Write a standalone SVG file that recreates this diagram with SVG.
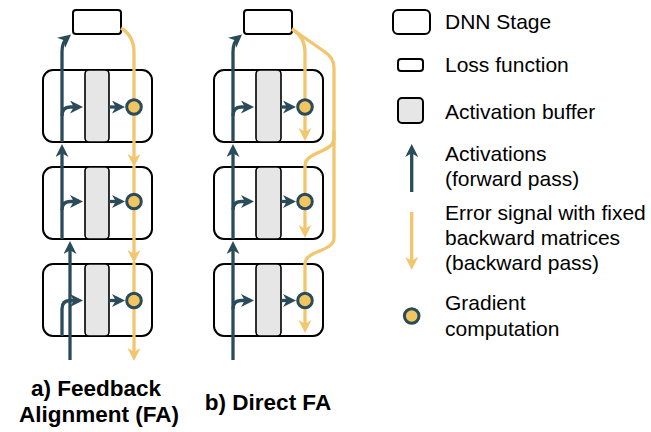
<svg xmlns="http://www.w3.org/2000/svg" width="651" height="432" viewBox="0 0 651 432">
<style>
.stage{fill:#fff;stroke:#000;stroke-width:2}
.loss{fill:#fff;stroke:#000;stroke-width:2}
.buf{fill:#e6e6e6;stroke:#000;stroke-width:1.6}
.act{fill:none;stroke:#2a4b5a;stroke-width:3.3;marker-end:url(#ab)}
.err{fill:none;stroke:#f2c66d;stroke-width:3.3;marker-end:url(#ay)}
.grad{fill:#f1c55f;stroke:#2a4b5a;stroke-width:3}
.t{font-family:"Liberation Sans",Arial,sans-serif;font-size:21px;fill:#000}
.lbl{font-family:"Liberation Sans",Arial,sans-serif;font-size:22.5px;font-weight:bold;fill:#000;text-anchor:middle}
</style>
<defs>
<marker id="ab" markerUnits="userSpaceOnUse" markerWidth="13" markerHeight="13" viewBox="0 0 13 13" refX="9" refY="6.5" orient="auto"><path d="M0,0 L13,6.5 L0,13 L3.8,6.5 z" fill="#2a4b5a"/></marker>
<marker id="ay" markerUnits="userSpaceOnUse" markerWidth="13" markerHeight="13" viewBox="0 0 13 13" refX="9" refY="6.5" orient="auto"><path d="M0,0 L13,6.5 L0,13 L3.8,6.5 z" fill="#f2c66d"/></marker>
</defs>

<g id="panel-a">
<g id="a-loss"><rect class="loss" x="73" y="10" width="48" height="24" rx="3"/></g>
<g id="a-stage1"><rect class="stage" x="43" y="70" width="109" height="72" rx="10"/><rect class="buf" x="85" y="70" width="24" height="72" rx="4"/></g>
<g id="a-stage2"><rect class="stage" x="43" y="167" width="109" height="72" rx="10"/><rect class="buf" x="85" y="167" width="24" height="72" rx="4"/></g>
<g id="a-stage3"><rect class="stage" x="43" y="264" width="109" height="72" rx="10"/><rect class="buf" x="85" y="264" width="24" height="72" rx="4"/></g>
</g>

<g id="panel-b">
<g id="b-loss"><rect class="loss" x="244" y="10" width="48" height="24" rx="3"/></g>
<g id="b-stage1"><rect class="stage" x="214" y="70" width="109" height="72" rx="10"/><rect class="buf" x="256" y="70" width="25" height="72" rx="4"/></g>
<g id="b-stage2"><rect class="stage" x="214" y="167" width="109" height="72" rx="10"/><rect class="buf" x="256" y="167" width="25" height="72" rx="4"/></g>
<g id="b-stage3"><rect class="stage" x="214" y="264" width="109" height="72" rx="10"/><rect class="buf" x="256" y="264" width="25" height="72" rx="4"/></g>
</g>

<g id="connectors">
<path class="err" d="M121,28 C129,33 134,40 134,52 L134,163"/>
<path class="err" d="M134,166 L134,259"/>
<path class="err" d="M134,262 L134,357"/>
<path class="act" d="M62,239 L62,148"/>
<path class="act" d="M62,142 L62,52 Q62,42 68,37"/>
<path class="act" d="M70,360 L70,245"/>
<path class="act" d="M62,116 Q62,107 70,107 L79,107"/>
<path class="act" d="M62,210 Q62,201.5 70,201.5 L79,201.5"/>
<path class="act" d="M62,336 L62,309 Q62,300.5 70,300.5 L79,300.5"/>
<path class="act" d="M109,107 L121,107"/>
<path class="act" d="M109,201.5 L121,201.5"/>
<path class="act" d="M109,300.5 L121,300.5"/>
<path class="err" d="M292,29 Q305,37 305,52 L305,137"/>
<path class="err" d="M292,29 L325,52 Q334,58 334,68 L334,138 C334,153 305,151 305,166 L305,234"/>
<path class="err" d="M334,130 L334,238 C334,252 305,250 305,264 L305,329"/>
<path class="act" d="M233,360 L233,245"/>
<path class="act" d="M233,239 L233,148"/>
<path class="act" d="M233,142 L233,52 Q233,42 239,37"/>
<path class="act" d="M233,116 Q233,107 241,107 L250,107"/>
<path class="act" d="M233,210 Q233,201.5 241,201.5 L250,201.5"/>
<path class="act" d="M233,309 Q233,300.5 241,300.5 L250,300.5"/>
<path class="act" d="M281,107 L292,107"/>
<path class="act" d="M281,201.5 L292,201.5"/>
<path class="act" d="M281,300.5 L292,300.5"/>
</g>

<g id="gradients">
<circle class="grad" cx="134" cy="107" r="7.3"/>
<circle class="grad" cx="134" cy="201.5" r="7.3"/>
<circle class="grad" cx="134" cy="300.5" r="7.3"/>
<circle class="grad" cx="305" cy="107" r="7.3"/>
<circle class="grad" cx="305" cy="201.5" r="7.3"/>
<circle class="grad" cx="305" cy="300.5" r="7.3"/>
</g>

<g id="labels">
<text class="lbl" x="96" y="396">a) Feedback</text>
<text class="lbl" x="99" y="422">Alignment (FA)</text>
<text class="lbl" x="268" y="410">b) Direct FA</text>
</g>

<g id="legend">
<g id="leg-stage"><rect class="stage" x="393" y="10" width="37" height="24" rx="5"/><text class="t" x="445" y="29">DNN Stage</text></g>
<g id="leg-loss"><rect class="loss" x="398" y="59" width="25" height="12" rx="3"/><text class="t" x="445" y="72">Loss function</text></g>
<g id="leg-buf"><rect class="buf" x="398" y="98" width="25" height="25" rx="4" style="stroke-width:2"/><text class="t" x="445" y="119">Activation buffer</text></g>
<g id="leg-act"><path class="act" d="M411.7,192 L411.7,148"/><text class="t" x="445" y="161">Activations</text><text class="t" x="445" y="186">(forward pass)</text></g>
<g id="leg-err"><path class="err" d="M411.7,212 L411.7,266"/><text class="t" x="445" y="220">Error signal with fixed</text><text class="t" x="445" y="245">backward matrices</text><text class="t" x="445" y="270">(backward pass)</text></g>
<g id="leg-grad"><circle class="grad" cx="411.7" cy="316" r="7.3"/><text class="t" x="445" y="310">Gradient</text><text class="t" x="445" y="336">computation</text></g>
</g>
</svg>
